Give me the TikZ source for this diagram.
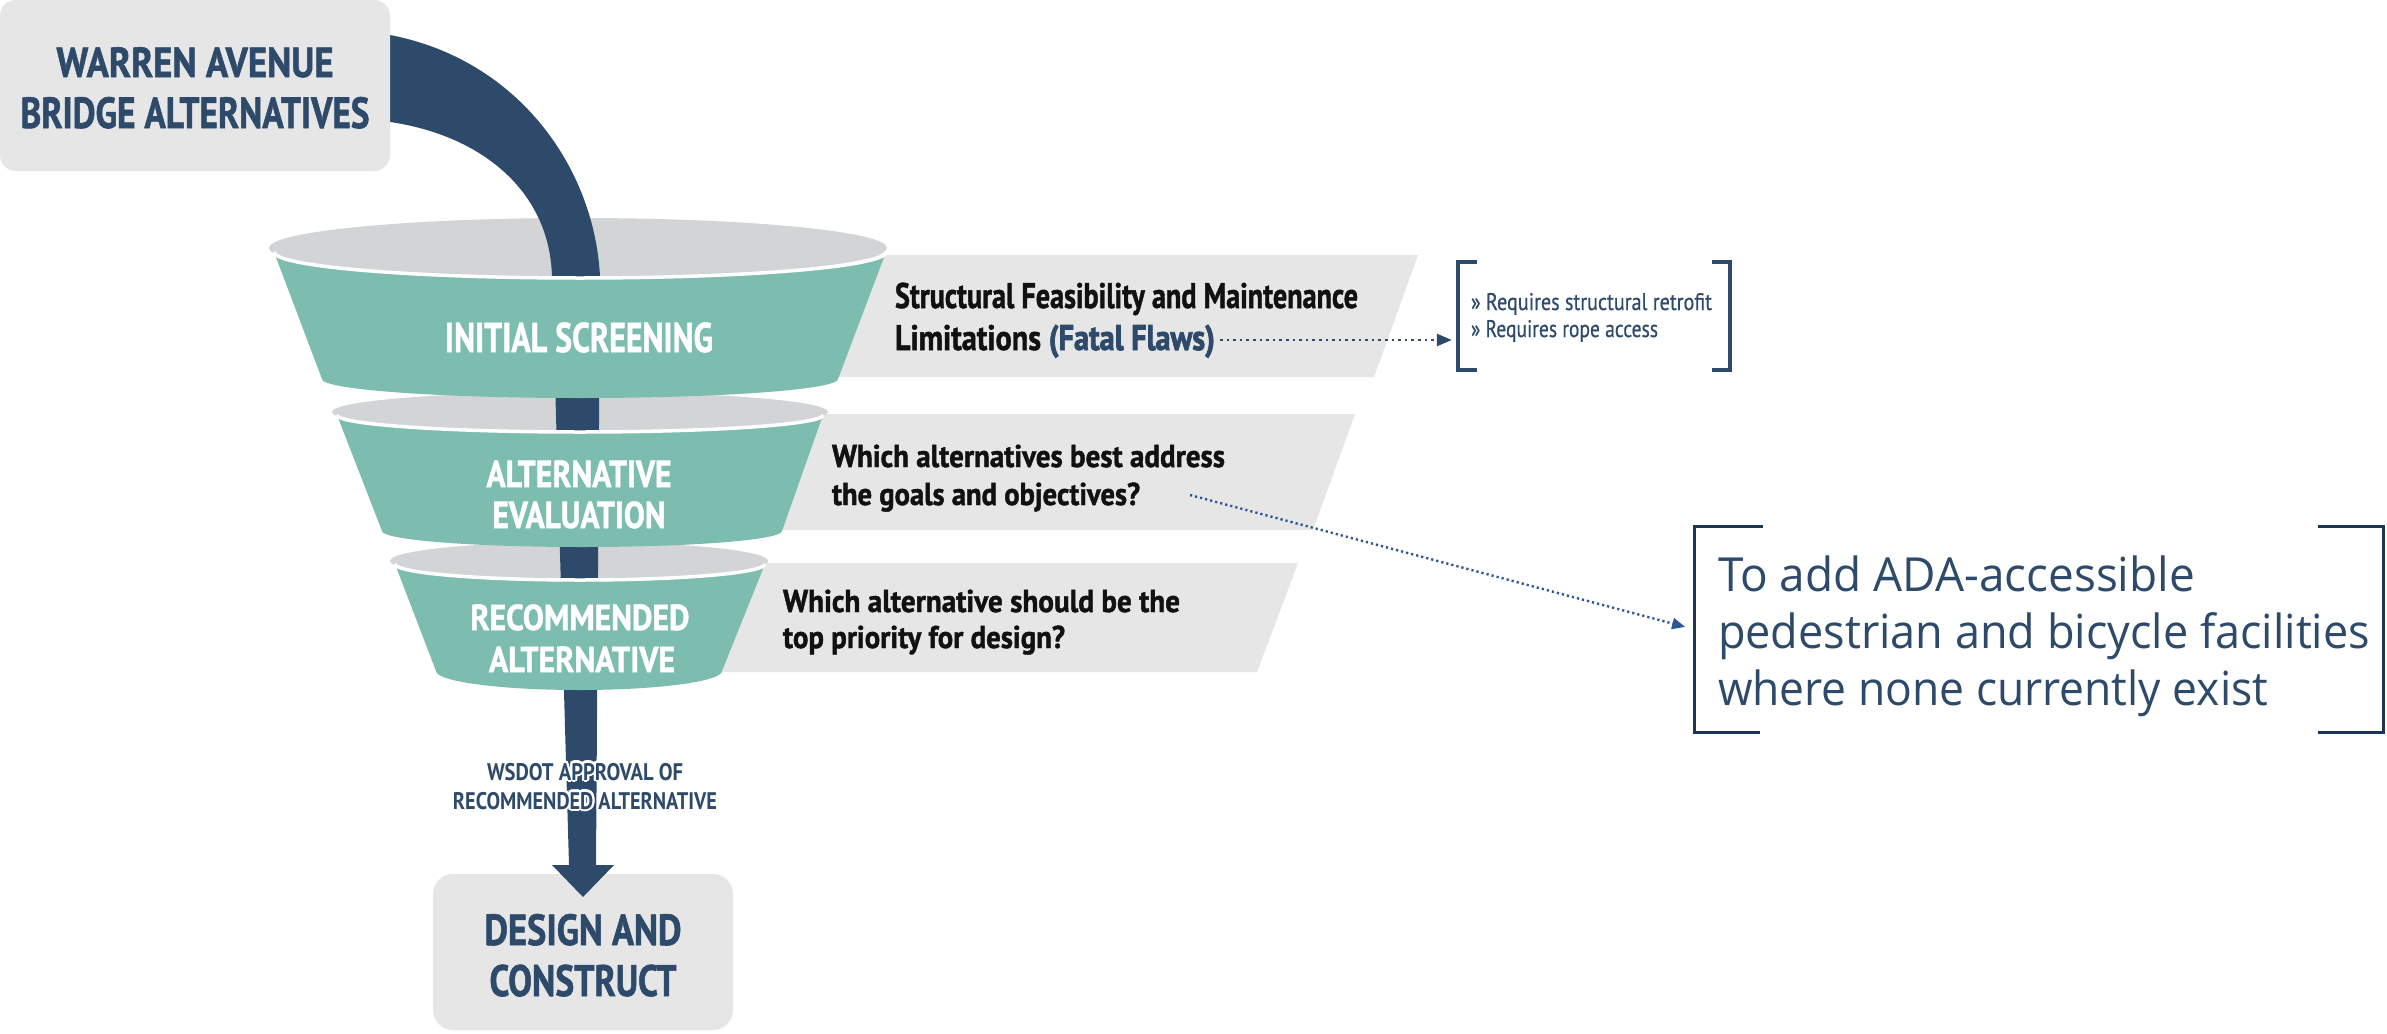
\documentclass[tikz,border=0pt]{standalone}
\usepackage{fontspec}
\usepackage{graphicx}
\setmainfont{PT Sans}
\newfontfamily\hvy[FakeBold=1.4]{PT Sans}
\newfontfamily\xhvy[FakeBold=2.4]{PT Sans}
\newfontfamily\med[FakeBold=0.6]{PT Sans}
\newfontfamily\adafont{Open Sans}
\usetikzlibrary{arrows.meta}
\definecolor{navy}{HTML}{2E4A6A}
\definecolor{fteal}{HTML}{7DBDB0}
\definecolor{ellg}{HTML}{D3D4D5}
\definecolor{bang}{HTML}{E6E6E6}
\definecolor{boxg}{HTML}{E6E6E7}
\definecolor{dotb}{HTML}{2F5597}
\definecolor{brk}{HTML}{1E3656}
\definecolor{btxt}{HTML}{111111}
\newcommand\myfit[2]{\resizebox{#1pt}{\height}{#2}}
\newcommand\myfs[1]{\fontsize{#1}{#1}\selectfont}
\tikzset{
  lbl/.style={inner sep=0, outer sep=0, anchor=base},
  boxtxt/.style={lbl, text=navy, font=\hvy\bfseries\myfs{42}},
  stagetxt/.style={lbl, text=white, font=\hvy\bfseries\myfs{#1}},
  bantxt/.style={lbl, anchor=base west, text=btxt, font=\hvy\bfseries\myfs{#1}},
  wsd/.style={lbl, font=\bfseries\myfs{24}},
  brtxt/.style={lbl, anchor=base west, text=navy, font=\med\myfs{24}},
  adatxt/.style={lbl, anchor=base west, text=navy, font=\adafont\myfs{47}},
  greybox/.style={fill=boxg, inner sep=0, rounded corners=16},
  banner/.style={fill=bang},
  ellipsefill/.style={fill=ellg},
  tealbody/.style={fill=fteal},
  rim/.style={draw=white, line width=3.5},
  dots1/.style={navy, line width=2.6, dash pattern=on 2.6pt off 4pt, -{Triangle[length=15pt,width=12pt]}},
  dots2/.style={dotb, line width=2.4, dash pattern=on 2.2pt off 3pt, -{Triangle[length=13pt,width=11pt]}},
}
\begin{document}
\begin{tikzpicture}[x=1pt,y=-1pt]
\useasboundingbox (0,0) rectangle (2387,1033);
\fill[white] (0,0) rectangle (2387,1033);

% banners
\fill[banner] (870,255) -- (1418,255) -- (1374,377) -- (825,377) -- cycle;
\fill[banner] (810,414) -- (1355,414) -- (1313,530) -- (770,530) -- cycle;
\fill[banner] (750,563) -- (1298,563) -- (1257,672) -- (708,672) -- cycle;

% design box
\node[greybox, minimum width=300, minimum height=156, rounded corners=20] (box2) at (583,952) {};

% grey rims
\fill[ellipsefill] (578,248) ellipse [x radius=309, y radius=30];
\fill[ellipsefill] (580,412) ellipse [x radius=248, y radius=20];
\fill[ellipsefill] (579,561) ellipse [x radius=189, y radius=19];

% band arrow
\fill[navy] (384,35) -- (390,35) .. controls (520,60) and (595,170) .. (600,277)
  -- (596,865) -- (614,865) -- (583,897) -- (552,865) -- (569,865) -- (552,277)
  .. controls (550,190) and (480,135) .. (390,122) -- (384,122) -- cycle;

% top box
\node[greybox, minimum width=390, minimum height=171] (box1) at (195,85.5) {};

% teal bodies
\fill[tealbody] (274,252) -- (322,379) arc[start angle=180,end angle=0,x radius=258,y radius=19]
  -- (886,252) arc[start angle=0,end angle=180,x radius=306,y radius=26] -- cycle;
\draw[rim] (886,252) arc[start angle=0,end angle=180,x radius=306,y radius=26];
\fill[tealbody] (337,415) -- (382,531) arc[start angle=180,end angle=0,x radius=200,y radius=16]
  -- (823,415) arc[start angle=0,end angle=180,x radius=243,y radius=17] -- cycle;
\draw[rim] (823,415) arc[start angle=0,end angle=180,x radius=243,y radius=17];
\fill[tealbody] (395,564) -- (436,671) arc[start angle=180,end angle=0,x radius=143,y radius=19]
  -- (765,564) arc[start angle=0,end angle=180,x radius=185,y radius=16] -- cycle;
\draw[rim] (765,564) arc[start angle=0,end angle=180,x radius=185,y radius=16];

% texts in boxes
\node[boxtxt] (t1a) at (195,77) {\myfit{277}{WARREN AVENUE}};
\node[boxtxt, font=\hvy\bfseries\myfs{43.5}] (t1b) at (195,128) {\myfit{349}{BRIDGE ALTERNATIVES}};
\node[boxtxt, font=\hvy\bfseries\myfs{43.5}] (t2a) at (583,945) {\myfit{197}{DESIGN AND}};
\node[boxtxt, font=\hvy\bfseries\myfs{44}] (t2b) at (583,996) {\myfit{187}{CONSTRUCT}};

% stage labels
\node[stagetxt=41.5] (s1) at (579,352) {\myfit{268}{INITIAL SCREENING}};
\node[stagetxt=37.5] (s2a) at (579,487) {\myfit{185}{ALTERNATIVE}};
\node[stagetxt=37.5] (s2b) at (579,528) {\myfit{173}{EVALUATION}};
\node[stagetxt=36] (s3a) at (580,630) {\myfit{219}{RECOMMENDED}};
\node[stagetxt=36] (s3b) at (582,672) {\myfit{186}{ALTERNATIVE}};

% WSDOT label with white halo
\foreach \a in {0,30,...,330}{
  \node[wsd, text=white, shift={(\a:2.2)}] (wha\a) at (585,780) {\myfit{196}{WSDOT APPROVAL OF}};
  \node[wsd, text=white, shift={(\a:2.2)}] (whb\a) at (585,809) {\myfit{264}{RECOMMENDED ALTERNATIVE}};
}
\node[wsd, text=navy] (wa) at (585,780) {\myfit{196}{WSDOT APPROVAL OF}};
\node[wsd, text=navy] (wb) at (585,809) {\myfit{264}{RECOMMENDED ALTERNATIVE}};

% banner texts
\node[bantxt=35.5] (b1a) at (895,308) {\myfit{463}{Structural Feasibility and Maintenance}};
\node[bantxt=35.5] (b1b) at (895,350) {\myfit{320}{Limitations \textcolor{navy}{\xhvy\bfseries(Fatal Flaws)}}};
\node[bantxt=31.5] (b2a) at (832,467) {\myfit{393}{Which alternatives best address}};
\node[bantxt=31.5] (b2b) at (832,505) {\myfit{308}{the goals and objectives?}};
\node[bantxt=31.5] (b3a) at (783,612) {\myfit{397}{Which alternative should be the}};
\node[bantxt=31.5] (b3b) at (783,648) {\myfit{282}{top priority for design?}};

% bracket 1
\node[minimum width=272, minimum height=108, inner sep=0] (br1) at (1594,316) {};
\draw[navy, line width=4] ([xshift=19]br1.north west) -- (br1.north west) -- (br1.south west) -- ([xshift=19]br1.south west);
\draw[navy, line width=4] ([xshift=-18]br1.north east) -- (br1.north east) -- (br1.south east) -- ([xshift=-18]br1.south east);
\node[brtxt] (r1) at (1471,310) {\myfit{241}{» Requires structural retrofit}};
\node[brtxt] (r2) at (1471,337) {\myfit{187}{» Requires rope access}};

% bracket 2
\node[minimum width=688, minimum height=206, inner sep=0] (br2) at (2039,629.5) {};
\draw[brk, line width=3] ([xshift=68]br2.north west) -- (br2.north west) -- (br2.south west) -- ([xshift=65]br2.south west);
\draw[brk, line width=3] ([xshift=-65]br2.north east) -- (br2.north east) -- (br2.south east) -- ([xshift=-65]br2.south east);
\node[adatxt] (a1) at (1718,591) {\myfit{477}{To add ADA-accessible}};
\node[adatxt] (a2) at (1718,648) {\myfit{652}{pedestrian and bicycle facilities}};
\node[adatxt] (a3) at (1718,705) {\myfit{550}{where none currently exist}};

% connectors
\draw[dots1, shorten <=5pt, shorten >=6pt] ([yshift=10]b1b.base east) -- ([yshift=10]b1b.base east -| br1.west);
\coordinate (c2) at (1190,495);
\draw[dots2, shorten >=10pt] (c2) -- (br2.west);
\end{tikzpicture}
\end{document}
